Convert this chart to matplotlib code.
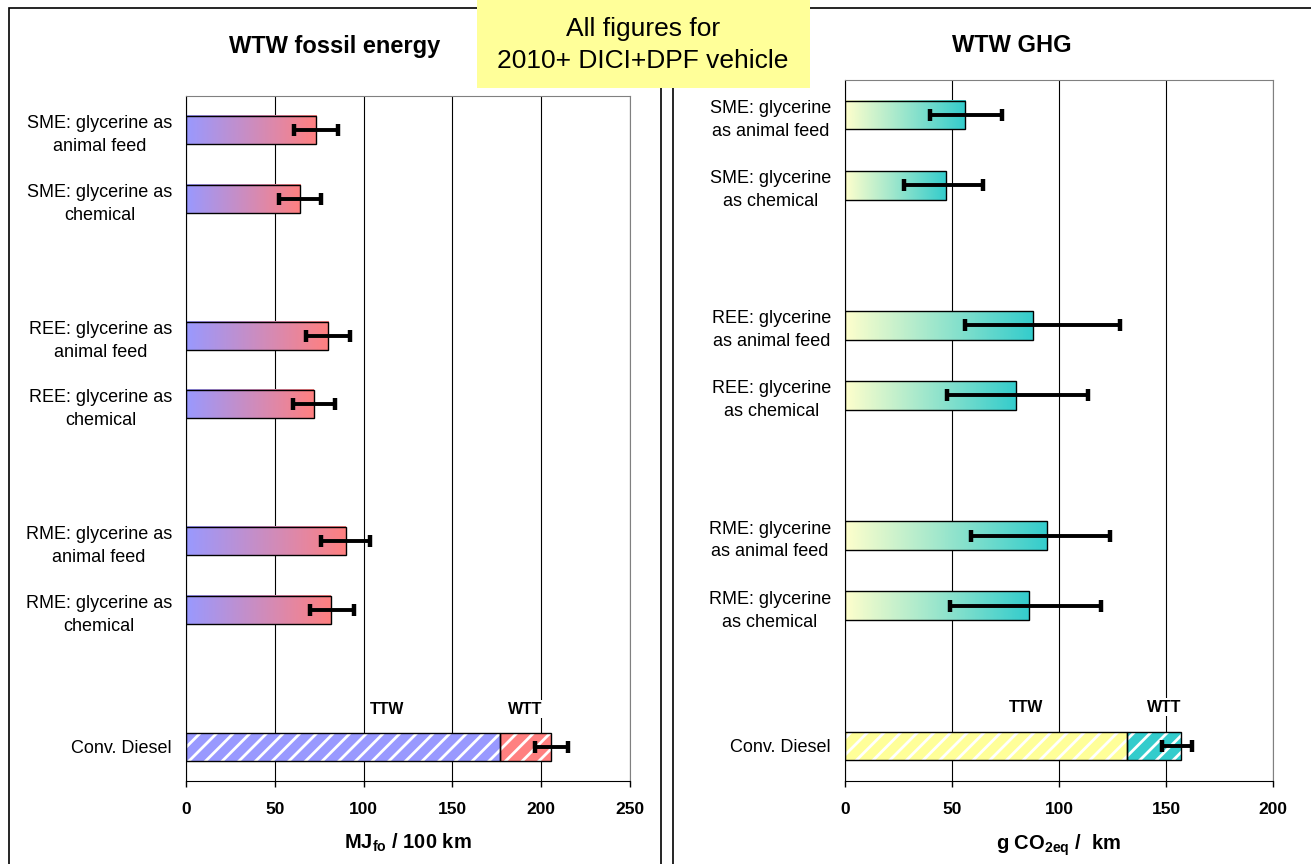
import numpy as np
import matplotlib
matplotlib.use('Agg')
import matplotlib.pyplot as plt
from matplotlib.colors import LinearSegmentedColormap
from matplotlib.patches import Rectangle

plt.rcParams['font.family'] = ['Liberation Sans', 'DejaVu Sans']
plt.rcParams['mathtext.fontset'] = 'custom'
plt.rcParams['mathtext.rm'] = 'Liberation Sans:bold'
plt.rcParams['mathtext.it'] = 'Liberation Sans:bold'
plt.rcParams['mathtext.bf'] = 'Liberation Sans:bold'
plt.rcParams['mathtext.default'] = 'rm'
plt.rcParams['hatch.linewidth'] = 2.0

# pathways (same order in both panels), empty slot between each group
labels_energy = ["SME: glycerine as\nanimal feed", "SME: glycerine as\nchemical",
                 "REE: glycerine as\nanimal feed", "REE: glycerine as\nchemical",
                 "RME: glycerine as\nanimal feed", "RME: glycerine as\nchemical"]
labels_ghg = ["SME: glycerine\nas animal feed", "SME: glycerine\nas chemical",
              "REE: glycerine\nas animal feed", "REE: glycerine\nas chemical",
              "RME: glycerine\nas animal feed", "RME: glycerine\nas chemical"]
diesel_label = "Conv. Diesel"
slots = [0, 1, 3, 4, 6, 7]
diesel_slot = 9

# WTW fossil energy, MJ / 100 km
energy = np.array([73.2, 64.2, 80.0, 72.0, 90.0, 81.6])
energy_low = np.array([60.8, 52.4, 67.6, 60.0, 76.0, 69.8])
energy_high = np.array([85.6, 76.0, 92.3, 84.0, 103.6, 94.6])
diesel_energy_ttw = 176.8
diesel_energy_wtt = 28.7
diesel_energy_range = (196.5, 215.0)

# WTW GHG, g CO2eq / km
ghg = np.array([56.1, 47.2, 87.9, 80.0, 94.4, 86.0])
ghg_low = np.array([39.7, 27.6, 56.0, 47.7, 58.9, 49.0])
ghg_high = np.array([73.4, 64.5, 128.5, 113.6, 123.8, 119.6])
diesel_ghg_ttw = 131.6
diesel_ghg_wtt = 25.2
diesel_ghg_range = (148.3, 162.0)

W, H = 1311, 864
fig = plt.figure(figsize=(W / 100, H / 100), dpi=100)


def draw_panel(ax, labels, vals, lo, hi, ttw, wtt, drange, c0, c1, hatch_cols,
               xmax, xlabel, ttw_x, wtt_x):
    h = 0.41
    cmap = LinearSegmentedColormap.from_list('grad', [c0, c1])
    grad = np.linspace(0, 1, 256).reshape(1, -1)
    ebar = dict(fmt='none', ecolor='black', elinewidth=2.8, capsize=4.2,
                capthick=3.2, zorder=4)

    bars = ax.barh(slots, vals, height=h, facecolor='none',
                   edgecolor='black', lw=1, zorder=3)
    for b in bars:
        x0, y0 = b.get_x(), b.get_y()
        ax.imshow(grad, cmap=cmap, aspect='auto', zorder=2, origin='lower',
                  extent=[x0, x0 + b.get_width(), y0, y0 + b.get_height()])
    ax.errorbar(vals, slots, xerr=[vals - lo, hi - vals], **ebar)

    # conventional diesel: TTW + WTT, hatched
    ax.barh(diesel_slot, ttw, height=h, color=hatch_cols[0], edgecolor='white',
            hatch='//', lw=0, zorder=2)
    ax.barh(diesel_slot, wtt, left=ttw, height=h, color=hatch_cols[1],
            edgecolor='white', hatch='//', lw=0, zorder=2)
    ax.barh([diesel_slot, diesel_slot], [ttw, wtt], left=[0, ttw], height=h,
            facecolor='none', edgecolor='black', lw=1, zorder=3)
    tot = ttw + wtt
    ax.errorbar([tot], [diesel_slot],
                xerr=[[tot - drange[0]], [drange[1] - tot]], **ebar)
    for x, s in [(ttw_x, 'TTW'), (wtt_x, 'WTT')]:
        ax.text(x, 8.45, s, ha='center', va='center', fontsize=11.5,
                fontweight='bold', zorder=3,
                bbox=dict(fc='white', ec='none', pad=1))

    ax.set_xlim(0, xmax)
    ax.set_ylim(9.5, -0.5)
    ax.set_xticks(np.arange(0, xmax + 1, 50))
    ax.set_yticks(slots + [diesel_slot])
    ax.set_yticklabels(labels + [diesel_label], fontsize=13,
                       multialignment='center', linespacing=1.45)
    ax.tick_params(axis='y', length=0, pad=10)
    ax.tick_params(axis='x', length=4, width=1, direction='out', pad=11,
                   labelsize=12.5)
    for t in ax.get_xticklabels():
        t.set_fontweight('bold')
    ax.grid(axis='x', color='black', lw=0.8)
    ax.set_axisbelow(True)
    ax.spines['top'].set_color('#808080')
    ax.spines['right'].set_color('#808080')
    ax.set_xlabel(xlabel, fontsize=14.5, fontweight='bold', labelpad=11)


ax1 = fig.add_axes([186 / W, 1 - 781 / H, 444 / W, 685 / H])
draw_panel(ax1, labels_energy, energy, energy_low, energy_high,
           diesel_energy_ttw, diesel_energy_wtt, diesel_energy_range,
           '#9999FF', '#FF8080', ('#9999FF', '#FF8080'), 250,
           r'MJ$_{fo}$ / 100 km', 113, 191)

ax2 = fig.add_axes([845 / W, 1 - 781 / H, 428 / W, 701 / H])
draw_panel(ax2, labels_ghg, ghg, ghg_low, ghg_high,
           diesel_ghg_ttw, diesel_ghg_wtt, diesel_ghg_range,
           '#FFFFCC', '#33CCCC', ('#FFFF99', '#33CCCC'), 200,
           r'g CO$_{2eq}$ /  km', 84.8, 149.3)

fig.text(335 / W, 1 - 46 / H, 'WTW fossil energy', ha='center', va='center',
         fontsize=17, fontweight='bold')
fig.text(1012 / W, 1 - 46 / H, 'WTW GHG', ha='center', va='center',
         fontsize=17, fontweight='bold')

# panel frames
fig.add_artist(Rectangle((9 / W, -0.05), 652 / W, 1.05 - 8 / H,
                         transform=fig.transFigure, fill=False, ec='black', lw=1.2))
fig.add_artist(Rectangle((673 / W, -0.05), 0.6, 1.05 - 8 / H,
                         transform=fig.transFigure, fill=False, ec='black', lw=1.2))

# yellow note box
fig.add_artist(Rectangle((477 / W, 1 - 88 / H), 333 / W, 0.2,
                         transform=fig.transFigure, fc='#FFFF99', ec='none', zorder=5))
fig.text(643 / W, 1 - 45 / H, 'All figures for\n2010+ DICI+DPF vehicle',
         ha='center', va='center', fontsize=19, linespacing=1.4, zorder=6)

fig.savefig('out.png', dpi=100)
